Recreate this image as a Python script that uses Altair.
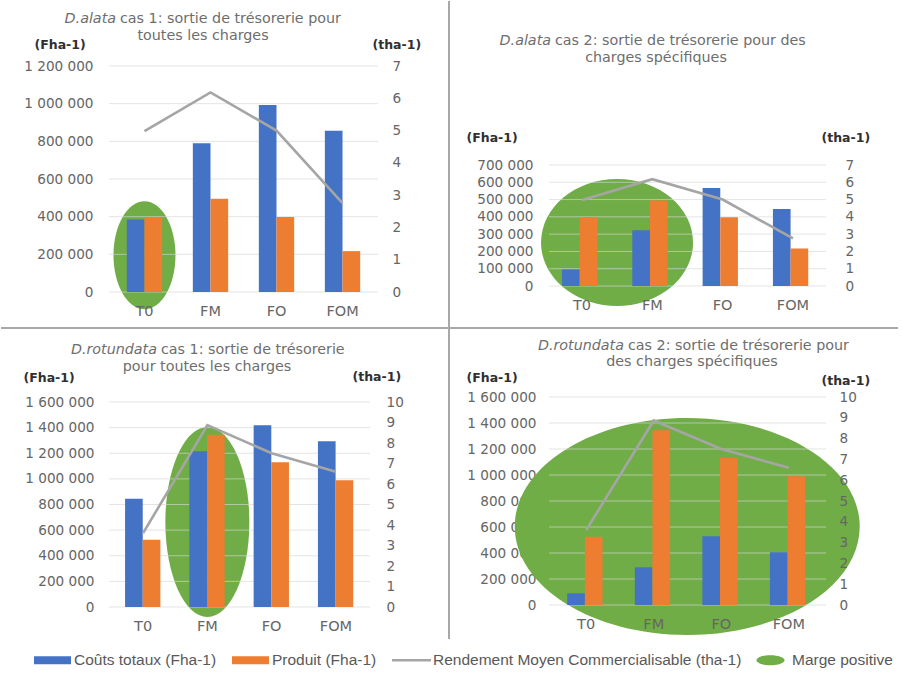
import altair as alt
import pandas as pd

# ---------------- data ----------------
categories = ["T0", "FM", "FO", "FOM"]
series = ["Coûts totaux (Fha-1)", "Produit (Fha-1)"]
legend_labels = ["Coûts totaux (Fha-1)", "Produit (Fha-1)",
                 "Rendement Moyen Commercialisable (tha-1)", "Marge positive"]

alata_cas1_couts = [385000, 790000, 993000, 856000]
alata_cas1_produit = [398000, 495000, 398000, 217000]
alata_cas2_couts = [95000, 322000, 567000, 445000]
alata_cas2_produit = [398000, 495000, 398000, 217000]
alata_rendement = [4.98, 6.18, 5.0, 2.75]

rotundata_cas1_couts = [845000, 1215000, 1418000, 1293000]
rotundata_cas1_produit = [525000, 1345000, 1130000, 990000]
rotundata_cas2_couts = [90000, 290000, 529000, 406000]
rotundata_cas2_produit = [525000, 1345000, 1130000, 990000]
rotundata_rendement = [3.6, 8.87, 7.5, 6.6]

ticks_fha_alata1 = [0, 200000, 400000, 600000, 800000, 1000000, 1200000]
ticks_fha_alata2 = [0, 100000, 200000, 300000, 400000, 500000, 600000, 700000]
ticks_fha_rotundata = [0, 200000, 400000, 600000, 800000, 1000000, 1200000, 1400000, 1600000]
ticks_tha_alata = [0, 1, 2, 3, 4, 5, 6, 7]
ticks_tha_rotundata = [0, 1, 2, 3, 4, 5, 6, 7, 8, 9, 10]

# "Marge positive" highlight: anchor category and anchor value (Fha-1)
marge_categories = ["T0", "T0", "FM", "FM"]
marge_values = [195000, 252000, 663000, 604000]

titles_species = ["D.alata", "D.alata", "D.rotundata", "D.rotundata"]
titles_line1 = ["cas 1: sortie de trésorerie pour",
                "cas 2: sortie de trésorerie pour des",
                "cas 1: sortie de trésorerie",
                "cas 2: sortie de trésorerie pour"]
titles_line2 = ["toutes les charges", "charges spécifiques",
                "pour toutes les charges", "des charges spécifiques"]

# ---------------- style ----------------
FONT = "DejaVu Sans"
LEGEND_FONT = "Liberation Sans"
BLUE, ORANGE, GREY, GREEN = "#4472c4", "#ed7d31", "#a5a5a5", "#70ad47"
LABEL = "#666666"
TITLE = "#6e6e6e"
DARK = "#303030"
DIV = "#a8a8a8"

geometry = [
    dict(w=269, h=226, rng=[226, 0], pin=0.465, pout=0.27, split=7, l1y=-47, l2x=94, l2y=-30,
         fha=(-75, -22), tha=(-6, -22), lpad=16, rpad=14, ell=(31, 54), dx=0),
    dict(w=277, h=220, rng=[220, 99], pin=0.43, pout=0.185, split=2, l1y=-25, l2x=107, l2y=-8,
         fha=(-83, 71), tha=(-5, 71), lpad=16, rpad=19, ell=(76, 63.5), dx=35),
    dict(w=261, h=210, rng=[210, 5], pin=0.44, pout=0.25, split=48, l1y=-47, l2x=98, l2y=-30,
         fha=(-86, -20), tha=(-18, -21), lpad=15, rpad=16, ell=(42, 95), dx=0),
    dict(w=277, h=208, rng=[208, 0], pin=0.44, pout=0.27, split=75, l1y=-51, l2x=143, l2y=-35,
         fha=(-83, -20), tha=(-5, -17), lpad=13, rpad=13, ell=(172.5, 108.5), dx=33.5),
]


def ellipse_shape(a, b):
    s = max(a, b)
    ra, rb = a / s, b / s
    path = (f"M{-ra:.4f},0A{ra:.4f},{rb:.4f},0,1,0,{ra:.4f},0"
            f"A{ra:.4f},{rb:.4f},0,1,0,{-ra:.4f},0Z")
    return path, (2 * s) ** 2


def text_layer(txt, x, y, align, style="normal"):
    return alt.Chart(pd.DataFrame({"t": [0]})).mark_text(
        text=txt, align=align, baseline="middle", font=FONT, fontSize=14.3,
        fontStyle=style, color=TITLE
    ).encode(x=alt.value(x), y=alt.value(y))


def make_panel(i, couts, produit, rendement, fha_ticks, tha_ticks, extras=()):
    g = geometry[i]
    df_bars = pd.DataFrame({
        "categorie": categories * 2,
        "serie": [series[0]] * 4 + [series[1]] * 4,
        "valeur": couts + produit,
    })
    df_line = pd.DataFrame({"categorie": categories, "rendement": rendement})
    df_grid = pd.DataFrame({"valeur": fha_ticks})
    df_marge = pd.DataFrame({"categorie": [marge_categories[i]], "valeur": [marge_values[i]]})

    xscale = alt.Scale(domain=categories, paddingInner=g["pin"], paddingOuter=g["pout"])
    yscale = alt.Scale(domain=[fha_ticks[0], fha_ticks[-1]], range=g["rng"], nice=False, zero=False)
    y2scale = alt.Scale(domain=[tha_ticks[0], tha_ticks[-1]], range=g["rng"], nice=False, zero=False)

    x_axis = alt.Axis(title=None, labelAngle=0, domain=False, ticks=False, tickSize=0,
                      labelPadding=12, labelFont=FONT, labelFontSize=14.5, labelColor=LABEL, zindex=1)
    left_axis = alt.Axis(
        values=fha_ticks, labelExpr="replace(format(datum.value, ','), regexp(',', 'g'), ' ')",
        domain=False, ticks=False, tickSize=0, grid=False, labelPadding=g["lpad"],
        labelFont=FONT, labelFontSize=13.6, labelColor=LABEL, zindex=0,
        title="(Fha-1)", titleAngle=0, titleX=g["fha"][0], titleY=g["fha"][1],
        titleAlign="left", titleBaseline="middle", titleFont=FONT, titleFontSize=12.5,
        titleFontWeight="bold", titleColor=DARK)
    right_axis = alt.Axis(
        orient="right", values=tha_ticks, format="d", domain=False, ticks=False, tickSize=0,
        grid=False, labelPadding=g["rpad"], labelFont=FONT, labelFontSize=13.6, labelColor=LABEL,
        zindex=1,
        title="(tha-1)", titleAngle=0, titleX=g["tha"][0], titleY=g["tha"][1],
        titleAlign="left", titleBaseline="middle", titleFont=FONT, titleFontSize=12.5,
        titleFontWeight="bold", titleColor=DARK)

    xenc = alt.X("categorie:N", scale=xscale, axis=x_axis)
    yenc = alt.Y("valeur:Q", scale=yscale, axis=left_axis)

    path, size = ellipse_shape(*g["ell"])
    ellipse = alt.Chart(df_marge).mark_point(
        shape=path, size=size, filled=True, fill=GREEN, opacity=1, strokeWidth=0, xOffset=g["dx"]
    ).encode(x=xenc, y=yenc)
    grid = alt.Chart(df_grid).mark_rule(color="#d6d6d6", strokeWidth=1, opacity=0.65).encode(y=yenc)
    bars = alt.Chart(df_bars).mark_bar().encode(
        x=xenc,
        xOffset=alt.XOffset("serie:N", scale=alt.Scale(domain=series, paddingInner=0, paddingOuter=0)),
        y=yenc,
        fill=alt.Fill("serie:N", scale=alt.Scale(domain=series, range=[BLUE, ORANGE]), legend=None),
    )
    line = alt.Chart(df_line).mark_line(color=GREY, strokeWidth=2.6).encode(
        x=xenc,
        y=alt.Y("rendement:Q", scale=y2scale, axis=right_axis),
    )
    inner = alt.layer(ellipse, grid, bars)
    t1 = text_layer(titles_species[i], g["split"], g["l1y"], "right", "italic")
    t2 = text_layer(titles_line1[i], g["split"] + 4, g["l1y"], "left")
    t3 = text_layer(titles_line2[i], g["l2x"], g["l2y"], "center")
    return alt.layer(inner, line, t1, t2, t3, *extras).resolve_scale(y="independent").properties(
        width=g["w"], height=g["h"])


# decorations living in the first panel: dividers + common legend
one = pd.DataFrame({"d": [0]})
div_v = alt.Chart(one).mark_rule(color=DIV, strokeWidth=2).encode(
    x=alt.value(340), y=alt.value(-65), y2=alt.value(573))
div_h = alt.Chart(one).mark_rule(color=DIV, strokeWidth=2).encode(
    x=alt.value(-108), x2=alt.value(789), y=alt.value(262))

legend_shapes = [
    "M-1.85,-0.4H1.85V0.4H-1.85Z",
    "M-1.85,-0.4H1.85V0.4H-1.85Z",
    "M-1.95,-0.12H1.95V0.12H-1.95Z",
    "M-1.4,0A1.4,0.5,0,1,0,1.4,0A1.4,0.5,0,1,0,-1.4,0Z",
]
leg = alt.Legend(title=None, orient="none", legendX=-66.5, legendY=584, direction="horizontal",
                 columns=4, columnPadding=15, symbolSize=400, symbolStrokeWidth=0, symbolOpacity=1,
                 labelOffset=11.5, labelFont=LEGEND_FONT, labelFontSize=15.5, labelColor="#595959",
                 labelLimit=0, padding=0, rowPadding=0, labelBaseline="middle")
legend_layer = alt.Chart(pd.DataFrame({"legende": legend_labels})).mark_point(
    filled=True, opacity=0, size=1
).encode(
    x=alt.value(0), y=alt.value(0),
    color=alt.Color("legende:N", scale=alt.Scale(domain=legend_labels, range=[BLUE, ORANGE, GREY, GREEN]), legend=leg),
    shape=alt.Shape("legende:N", scale=alt.Scale(domain=legend_labels, range=legend_shapes), legend=leg),
)

p1 = make_panel(0, alata_cas1_couts, alata_cas1_produit, alata_rendement,
                ticks_fha_alata1, ticks_tha_alata, extras=(div_v, div_h, legend_layer))
p2 = make_panel(1, alata_cas2_couts, alata_cas2_produit, alata_rendement,
                ticks_fha_alata2, ticks_tha_alata)
p3 = make_panel(2, rotundata_cas1_couts, rotundata_cas1_produit, rotundata_rendement,
                ticks_fha_rotundata, ticks_tha_rotundata)
p4 = make_panel(3, rotundata_cas2_couts, rotundata_cas2_produit, rotundata_rendement,
                ticks_fha_rotundata, ticks_tha_rotundata)

chart = alt.concat(
    p1, p2, p3, p4, columns=2, spacing={"row": 105, "column": 163},
    bounds="flush", align="all", padding=0, background="white"
).configure_view(stroke=None)

chart.save("out.html", embed_options={"renderer": "svg", "actions": False})
